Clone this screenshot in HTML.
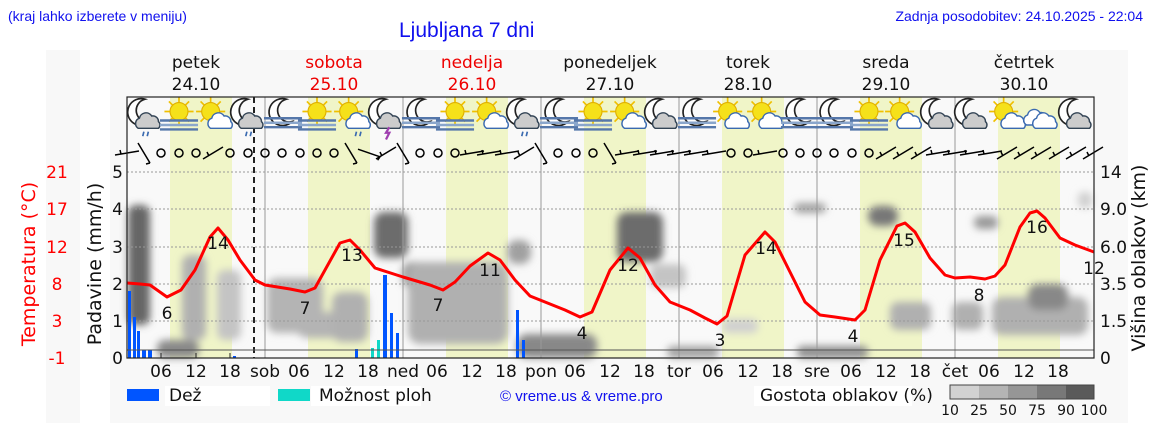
<!DOCTYPE html><html><head><meta charset="utf-8"><style>
body{margin:0;width:1152px;height:443px;background:#fff;overflow:hidden;font-family:"DejaVu Sans",sans-serif}
</style></head><body>
<svg width="1152" height="443" viewBox="0 0 1152 443" xmlns="http://www.w3.org/2000/svg">
<defs>
<filter id="bl" x="-50%" y="-50%" width="200%" height="200%"><feGaussianBlur stdDeviation="4"/></filter>
<g id="sun"><g stroke="#f0c000" stroke-width="1.5"><line x1="-13" y1="0" x2="13" y2="0"/><line x1="0" y1="-13" x2="0" y2="13"/><line x1="-9" y1="-9" x2="9" y2="9"/><line x1="-9" y1="9" x2="9" y2="-9"/></g><circle r="8" fill="#f5e11a" stroke="#e0b000"/></g>
<g id="moon"><path d="M3,-12 A12,12 0 1 0 8,8 A10,10 0 0 1 3,-12Z" fill="#fff" stroke="#222" stroke-width="1.5"/></g>
<g id="cloud"><path d="M-9,6 a5,5 0 0 1 1,-9 a6,6 0 0 1 11,-2 a5,5 0 0 1 6,5 a4,4 0 0 1 0,6z" fill="#ccc" stroke="#345" stroke-width="1.3"/></g>
<g id="wcloud"><path d="M-9,6 a5,5 0 0 1 1,-9 a6,6 0 0 1 11,-2 a5,5 0 0 1 6,5 a4,4 0 0 1 0,6z" fill="#fff" stroke="#3a6ab0" stroke-width="1.3"/></g>
<g id="fog" stroke-width="2.2"><line x1="-17" y1="2" x2="17" y2="2" stroke="#5577aa"/><line x1="-17" y1="6" x2="17" y2="6" stroke="#8aa6cc"/><line x1="-17" y1="10" x2="17" y2="10" stroke="#5577aa"/></g>
<g id="i_mcr"><use href="#moon" x="-3" y="-3"/><use href="#cloud" x="3" y="5"/><path d="M-1,14 l-1,4 M3,14 l-1,4" stroke="#3a6ab0" stroke-width="1.5"/></g>
<g id="i_mc"><use href="#moon" x="-3" y="-3"/><use href="#cloud" x="3" y="5"/></g>
<g id="i_mf"><use href="#moon" x="0" y="-3"/><use href="#fog"/></g>
<g id="i_sf"><use href="#sun" x="0" y="-4"/><use href="#fog" y="2"/></g>
<g id="i_sc"><use href="#sun" x="-3" y="-4"/><use href="#wcloud" x="6" y="5"/></g>
<g id="i_scr"><use href="#sun" x="-3" y="-4"/><use href="#wcloud" x="6" y="5"/><path d="M4,14 l-1,4 M8,14 l-1,4" stroke="#3a6ab0" stroke-width="1.5"/></g>
<g id="i_mcs"><use href="#moon" x="-3" y="-3"/><use href="#cloud" x="3" y="5"/><path d="M3,10 l-3,5 h3 l-3,6" stroke="#a040b0" stroke-width="2" fill="none"/></g>
<g id="i_c"><use href="#wcloud" x="-4" y="2"/><use href="#wcloud" x="4" y="5"/></g>
<g id="o"><circle r="4" fill="none" stroke="#000" stroke-width="1.5"/></g>
<g id="bh"><path d="M-12,2 L12,-2 M-6,1 l-1,-4" stroke="#000" stroke-width="1.5" fill="none"/></g>
<g id="bs"><path d="M-10,6 L10,-6 M-4,3 l-2,-4" stroke="#000" stroke-width="1.5" fill="none"/></g>
<g id="bb"><path d="M-6,-10 L6,10 M6,10 l-4,1" stroke="#000" stroke-width="1.5" fill="none"/></g>
</defs>
<rect x="46" y="50" width="34" height="373" fill="#f8f8f8"/>
<rect x="110" y="50" width="1018" height="373" fill="#f8f8f8"/>
<rect x="127" y="97" width="967" height="261" fill="#f9f9f9"/>
<g fill="#f0f5c8">
<rect x="170" y="97" width="62" height="261"/><rect x="308" y="97" width="62" height="261"/><rect x="446" y="97" width="62" height="261"/><rect x="584" y="97" width="62" height="261"/><rect x="722" y="97" width="62" height="261"/><rect x="860" y="97" width="62" height="261"/><rect x="998" y="97" width="62" height="261"/>
</g>
<g filter="url(#bl)">
<rect x="128" y="205" width="22" height="120" rx="8" fill="#666"/>
<rect x="157" y="340" width="42" height="18" rx="8" fill="#888"/>
<rect x="182" y="255" width="24" height="85" rx="8" fill="#b0b0b0"/>
<rect x="217" y="270" width="24" height="70" rx="8" fill="#c4c4c4"/>
<rect x="267" y="278" width="56" height="55" rx="10" fill="#b4b4b4"/>
<rect x="297" y="312" width="56" height="26" rx="10" fill="#b4b4b4"/>
<rect x="332" y="292" width="36" height="50" rx="10" fill="#b0b0b0"/>
<rect x="374" y="212" width="34" height="46" rx="10" fill="#6c6c6c"/>
<rect x="402" y="262" width="36" height="26" rx="10" fill="#999"/>
<rect x="408" y="262" width="100" height="82" rx="12" fill="#b0b0b0"/>
<rect x="507" y="240" width="24" height="24" rx="10" fill="#a0a0a0"/>
<rect x="517" y="334" width="80" height="24" rx="10" fill="#888"/>
<rect x="617" y="212" width="46" height="50" rx="10" fill="#6c6c6c"/>
<rect x="650" y="264" width="36" height="24" rx="8" fill="#c4c4c4"/>
<rect x="667" y="346" width="52" height="12" rx="6" fill="#a0a0a0"/>
<rect x="722" y="319" width="36" height="14" rx="6" fill="#d0d0d0"/>
<rect x="794" y="203" width="32" height="10" rx="5" fill="#a0a0a0"/>
<rect x="797" y="346" width="71" height="12" rx="5" fill="#8c8c8c"/>
<rect x="868" y="206" width="30" height="20" rx="10" fill="#777"/>
<rect x="890" y="302" width="41" height="28" rx="8" fill="#b0b0b0"/>
<rect x="952" y="302" width="31" height="28" rx="8" fill="#b0b0b0"/>
<rect x="974" y="216" width="24" height="13" rx="6" fill="#999"/>
<rect x="992" y="297" width="96" height="38" rx="10" fill="#b0b0b0"/>
<rect x="1028" y="284" width="40" height="26" rx="10" fill="#888"/>
<rect x="1078" y="192" width="14" height="16" rx="5" fill="#d0d0d0"/>
</g>
<g stroke="#999" stroke-dasharray="2,2" stroke-width="1"><line x1="127" x2="1094" y1="172" y2="172"/><line x1="127" x2="1094" y1="209" y2="209"/><line x1="127" x2="1094" y1="247" y2="247"/><line x1="127" x2="1094" y1="284" y2="284"/><line x1="127" x2="1094" y1="321" y2="321"/></g>
<g stroke="#999" stroke-width="1"><line x1="265" x2="265" y1="97" y2="358"/><line x1="403" x2="403" y1="97" y2="358"/><line x1="541" x2="541" y1="97" y2="358"/><line x1="679" x2="679" y1="97" y2="358"/><line x1="817" x2="817" y1="97" y2="358"/><line x1="955" x2="955" y1="97" y2="358"/></g>
<line x1="254" x2="254" y1="97" y2="358" stroke="#222" stroke-width="2" stroke-dasharray="6,4"/>
<g fill="#0055ff">
<rect x="128" y="291" width="3" height="67"/><rect x="133" y="317" width="3" height="41"/><rect x="137" y="331" width="3" height="27"/><rect x="142" y="350" width="4" height="8"/><rect x="148" y="350" width="4" height="8"/><rect x="233" y="356" width="3" height="2"/>
<rect x="355" y="349" width="3" height="9"/><rect x="383" y="275" width="4" height="83"/><rect x="390" y="313" width="3" height="45"/><rect x="396" y="333" width="3" height="25"/>
<rect x="516" y="310" width="3" height="48"/><rect x="522" y="340" width="3" height="18"/></g>
<g fill="#10d8c8"><rect x="371" y="348" width="3" height="10"/><rect x="377" y="340" width="3" height="18"/></g>
<line x1="127" x2="1094" y1="350" y2="350" stroke="#555" stroke-width="1"/>
<polyline fill="none" stroke="#f00" stroke-width="3" stroke-linejoin="round" points="127,283 140,284 150,285 167,297 181,290 195,270 210,237 218,228 228,240 240,260 255,280 265,285 290,289 305,292 315,288 325,270 340,243 350,240 360,250 375,268 403,277 430,285 443,290 455,282 470,266 488,253 500,260 515,280 530,296 545,302 565,310 580,317 592,312 610,270 628,248 640,258 655,285 670,302 690,310 705,318 717,324 727,316 745,255 765,232 775,242 790,272 805,302 820,315 835,317 855,320 865,310 880,260 897,226 905,223 915,232 930,258 945,275 955,278 970,277 985,279 995,276 1005,265 1020,227 1030,213 1037,211 1045,218 1060,238 1075,245 1094,252"/>
<g font-size="17" fill="#111" text-anchor="middle">
<text x="167" y="319">6</text><text x="218" y="249">14</text><text x="305" y="314">7</text><text x="352" y="261">13</text><text x="438" y="311">7</text><text x="490" y="276">11</text><text x="582" y="339">4</text><text x="628" y="271">12</text><text x="720" y="346">3</text><text x="766" y="254">14</text><text x="853" y="342">4</text><text x="904" y="246">15</text><text x="979" y="301">8</text><text x="1037" y="233">16</text><text x="1094" y="274">12</text>
</g>
<g transform="translate(0,116)">
<g transform="translate(145,0) scale(1.12)"><use href="#i_mcr"/></g><g transform="translate(179,0) scale(1.12)"><use href="#i_sf"/></g><g transform="translate(214,0) scale(1.12)"><use href="#i_sc"/></g><g transform="translate(248,0) scale(1.12)"><use href="#i_mcr"/></g>
<g transform="translate(283,0) scale(1.12)"><use href="#i_mf"/></g><g transform="translate(317,0) scale(1.12)"><use href="#i_sf"/></g><g transform="translate(352,0) scale(1.12)"><use href="#i_scr"/></g><g transform="translate(386,0) scale(1.12)"><use href="#i_mcs"/></g>
<g transform="translate(421,0) scale(1.12)"><use href="#i_mf"/></g><g transform="translate(455,0) scale(1.12)"><use href="#i_sf"/></g><g transform="translate(490,0) scale(1.12)"><use href="#i_sc"/></g><g transform="translate(524,0) scale(1.12)"><use href="#i_mcr"/></g>
<g transform="translate(559,0) scale(1.12)"><use href="#i_mf"/></g><g transform="translate(593,0) scale(1.12)"><use href="#i_sf"/></g><g transform="translate(628,0) scale(1.12)"><use href="#i_sc"/></g><g transform="translate(662,0) scale(1.12)"><use href="#i_mc"/></g>
<g transform="translate(697,0) scale(1.12)"><use href="#i_mf"/></g><g transform="translate(731,0) scale(1.12)"><use href="#i_sc"/></g><g transform="translate(765,0) scale(1.12)"><use href="#i_sc"/></g><g transform="translate(800,0) scale(1.12)"><use href="#i_mf"/></g>
<g transform="translate(834,0) scale(1.12)"><use href="#i_mf"/></g><g transform="translate(869,0) scale(1.12)"><use href="#i_sf"/></g><g transform="translate(903,0) scale(1.12)"><use href="#i_sc"/></g><g transform="translate(938,0) scale(1.12)"><use href="#i_mc"/></g>
<g transform="translate(972,0) scale(1.12)"><use href="#i_mc"/></g><g transform="translate(1007,0) scale(1.12)"><use href="#i_sc"/></g><g transform="translate(1041,0) scale(1.12)"><use href="#i_c"/></g><g transform="translate(1076,0) scale(1.12)"><use href="#i_mc"/></g>
</g>
<g transform="translate(0,153)">
<use href="#bh" x="127"/><use href="#bb" x="144"/><use href="#o" x="161"/><use href="#o" x="179"/><use href="#o" x="196"/><use href="#bs" x="213"/><use href="#o" x="230"/><use href="#o" x="248"/><use href="#o" x="265"/><use href="#o" x="282"/><use href="#o" x="300"/><use href="#o" x="317"/><use href="#o" x="334"/><use href="#bb" x="351"/><use href="#bb" x="369" transform="rotate(-40,369,0)"/><use href="#bs" x="386"/>
<use href="#bb" x="403"/><use href="#o" x="420"/><use href="#o" x="438"/><use href="#o" x="455"/><use href="#bh" x="472"/><use href="#bh" x="489"/><use href="#bh" x="507"/><use href="#bs" x="524"/><use href="#bb" x="541"/><use href="#o" x="558"/><use href="#o" x="576"/><use href="#o" x="593"/><use href="#bb" x="610"/><use href="#bh" x="627"/><use href="#bh" x="645"/><use href="#bh" x="662"/><use href="#bh" x="679"/><use href="#bh" x="696"/><use href="#bh" x="714"/><use href="#o" x="731"/><use href="#o" x="748"/><use href="#bh" x="765"/><use href="#o" x="783"/><use href="#o" x="800"/><use href="#o" x="817"/><use href="#o" x="834"/><use href="#o" x="852"/><use href="#o" x="869"/>
<use href="#bs" x="886"/><use href="#bs" x="903"/><use href="#bs" x="921"/><use href="#bh" x="938"/><use href="#bh" x="955"/><use href="#bh" x="972"/><use href="#bh" x="990"/><use href="#bs" x="1007"/><use href="#bs" x="1024"/><use href="#bs" x="1041"/><use href="#bs" x="1059"/><use href="#bs" x="1076"/><use href="#bs" x="1093"/>
</g>
<rect x="127" y="97" width="967" height="261" fill="none" stroke="#222" stroke-width="1.2"/>
<g stroke="#222"><line x1="161" x2="161" y1="353" y2="358"/><line x1="196" x2="196" y1="353" y2="358"/><line x1="230" x2="230" y1="353" y2="358"/></g>
<g font-size="17" fill="#111" text-anchor="middle">
<text x="161" y="377">06</text><text x="196" y="377">12</text><text x="230" y="377">18</text><text x="265" y="377">sob</text>
<text x="299" y="377">06</text><text x="334" y="377">12</text><text x="368" y="377">18</text><text x="403" y="377">ned</text>
<text x="437" y="377">06</text><text x="472" y="377">12</text><text x="506" y="377">18</text><text x="541" y="377">pon</text>
<text x="575" y="377">06</text><text x="610" y="377">12</text><text x="644" y="377">18</text><text x="679" y="377">tor</text>
<text x="713" y="377">06</text><text x="748" y="377">12</text><text x="782" y="377">18</text><text x="817" y="377">sre</text>
<text x="851" y="377">06</text><text x="886" y="377">12</text><text x="920" y="377">18</text><text x="955" y="377">čet</text>
<text x="989" y="377">06</text><text x="1024" y="377">12</text><text x="1058" y="377">18</text>
</g>
<g font-size="17" text-anchor="middle">
<text x="196" y="68" fill="#111">petek</text><text x="196" y="90" fill="#111">24.10</text>
<text x="334" y="68" fill="#e00">sobota</text><text x="334" y="90" fill="#e00">25.10</text>
<text x="472" y="68" fill="#e00">nedelja</text><text x="472" y="90" fill="#e00">26.10</text>
<text x="610" y="68" fill="#111">ponedeljek</text><text x="610" y="90" fill="#111">27.10</text>
<text x="748" y="68" fill="#111">torek</text><text x="748" y="90" fill="#111">28.10</text>
<text x="886" y="68" fill="#111">sreda</text><text x="886" y="90" fill="#111">29.10</text>
<text x="1024" y="68" fill="#111">četrtek</text><text x="1024" y="90" fill="#111">30.10</text>
</g>
<g font-size="17" fill="#111" text-anchor="end">
<text x="123" y="178">5</text><text x="123" y="215">4</text><text x="123" y="253">3</text><text x="123" y="290">2</text><text x="123" y="327">1</text><text x="123" y="364">0</text></g>
<g font-size="17" fill="#f00" text-anchor="middle">
<text x="57" y="178">21</text><text x="57" y="215">17</text><text x="57" y="253">12</text><text x="57" y="290">8</text><text x="57" y="327">3</text><text x="57" y="364">-1</text></g>
<text transform="translate(101,264) rotate(-90)" font-size="19" fill="#111" text-anchor="middle">Padavine (mm/h)</text>
<text transform="translate(35,264) rotate(-90)" font-size="19" fill="#f00" text-anchor="middle">Temperatura (°C)</text>
<g font-size="17" fill="#111" text-anchor="start">
<text x="1100" y="178">14</text><text x="1100" y="215">9.0</text><text x="1100" y="253">6.0</text><text x="1100" y="290">3.5</text><text x="1100" y="327">1.5</text><text x="1100" y="364">0</text></g>
<text transform="translate(1145,258) rotate(-90)" font-size="19" fill="#111" text-anchor="middle">Višina oblakov (km)</text>
<rect x="165" y="386" width="105" height="20" fill="#fff"/><rect x="311" y="386" width="110" height="20" fill="#fff"/><rect x="754" y="386" width="158" height="20" fill="#fff"/>
<rect x="127" y="389" width="32" height="12" fill="#0055ff"/><text x="169" y="401" font-size="17" fill="#111">Dež</text>
<rect x="278" y="389" width="32" height="12" fill="#10d8c8"/><text x="319" y="401" font-size="17" fill="#111">Možnost ploh</text>
<text x="500" y="401" font-size="15" fill="#1010ee" font-family="Liberation Sans,sans-serif">© vreme.us &amp; vreme.pro</text>
<text x="760" y="401" font-size="17" fill="#111">Gostota oblakov (%)</text>
<rect x="950" y="385" width="29" height="14" fill="#d2d2d2"/><rect x="979" y="385" width="29" height="14" fill="#b4b4b4"/><rect x="1008" y="385" width="29" height="14" fill="#969696"/><rect x="1037" y="385" width="29" height="14" fill="#787878"/><rect x="1066" y="385" width="28" height="14" fill="#5a5a5a"/>
<rect x="950" y="385" width="144" height="14" fill="none" stroke="#444"/>
<g font-size="14" fill="#111" text-anchor="middle"><text x="950" y="415">10</text><text x="979" y="415">25</text><text x="1008" y="415">50</text><text x="1037" y="415">75</text><text x="1066" y="415">90</text><text x="1094" y="415">100</text></g>
<g font-family="Liberation Sans,sans-serif" fill="#1010ee">
<text x="8" y="21" font-size="14">(kraj lahko izberete v meniju)</text>
<text x="399" y="37" font-size="21">Ljubljana 7 dni</text>
<text x="1143" y="21" font-size="14" text-anchor="end">Zadnja posodobitev: 24.10.2025 - 22:04</text>
</g>
</svg>
</body></html>
